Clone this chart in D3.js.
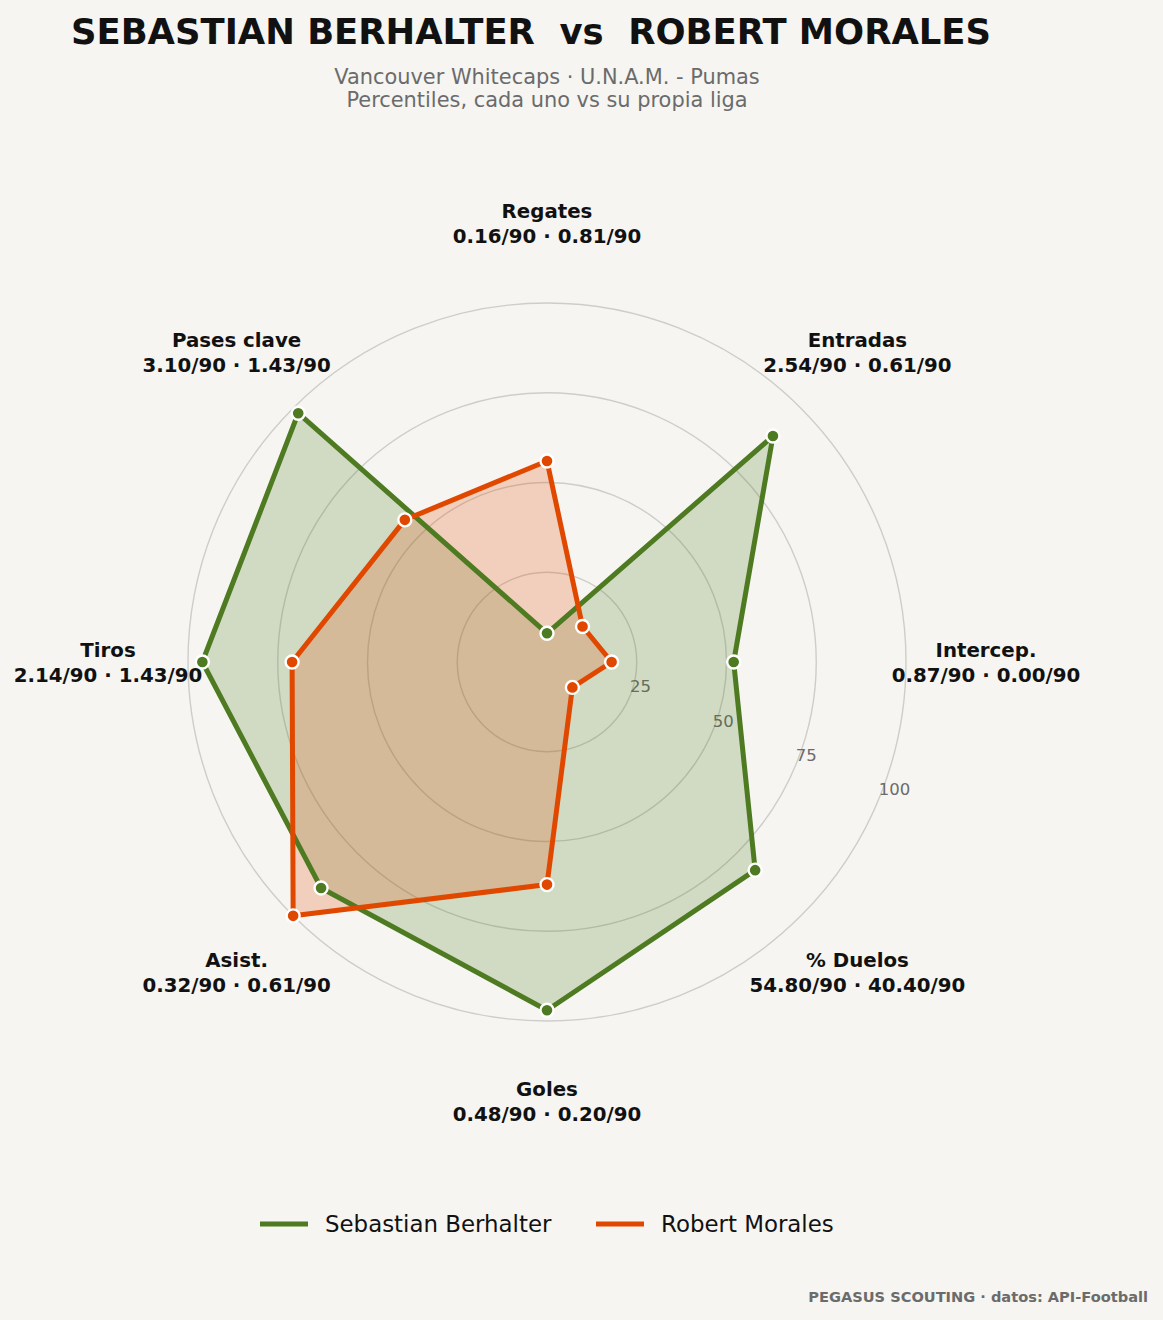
<!DOCTYPE html>
<html><head><meta charset="utf-8">
<script src="https://cdn.jsdelivr.net/npm/d3@7"></script>
<style>
html,body{margin:0;padding:0;background:#f6f5f1;}
svg{display:block;font-family:"DejaVu Sans",sans-serif;}
</style></head>
<body>
<svg id="chart" width="1163" height="1320"></svg>
<script>
const categories = ["Regates","Entradas","Intercep.","% Duelos","Goles","Asist.","Tiros","Pases clave"];
const rawA = ["0.16/90","2.54/90","0.87/90","54.80/90","0.48/90","0.32/90","2.14/90","3.10/90"];
const rawB = ["0.81/90","0.61/90","0.00/90","40.40/90","0.20/90","0.61/90","1.43/90","1.43/90"];
const berhalter = [8, 89, 52, 82, 97, 89, 96, 98];
const morales = [56, 14, 18, 10, 62, 100, 71, 56];
const ringTicks = [25, 50, 75, 100];
const seriesNames = ["Sebastian Berhalter","Robert Morales"];
const colors = ["#4e7a21","#e04800"];

const svg = d3.select("#chart");
svg.append("rect").attr("width",1163).attr("height",1320).attr("fill","#f6f5f1");
const cx = 547, cy = 662;
const r = d3.scaleLinear().domain([0,100]).range([0,359]);
const ang = d3.scaleLinear().domain([0,categories.length]).range([0,2*Math.PI]);
const g = svg.append("g").attr("transform",`translate(${cx},${cy})`);

// rings
g.selectAll("circle.ring").data(ringTicks).join("circle")
  .attr("r",d=>r(d)).attr("fill","none").attr("stroke","#cfcdc8").attr("stroke-width",1.4);

// ring labels
const la = 22.5*Math.PI/180;
g.selectAll("text.rl").data(ringTicks).join("text")
  .attr("x",d=>r(d)*Math.cos(la)).attr("y",d=>r(d)*Math.sin(la)-4)
  .attr("font-size",16.5).attr("fill","#6b6b6b").text(d=>d);

const pt = (v,i)=>{const a=ang(i); return [r(v)*Math.sin(a), -r(v)*Math.cos(a)];};
const line = d3.line().curve(d3.curveLinearClosed);

[berhalter, morales].forEach((vals,k)=>{
  const pts = vals.map((v,i)=>pt(v,i));
  g.append("path").attr("d",line(pts)).attr("fill",colors[k]).attr("fill-opacity",0.22).attr("stroke","none");
});
[berhalter, morales].forEach((vals,k)=>{
  const pts = vals.map((v,i)=>pt(v,i));
  g.append("path").attr("d",line(pts)).attr("fill","none").attr("stroke",colors[k]).attr("stroke-width",5).attr("stroke-linejoin","round");
  g.selectAll(null).data(pts).join("circle")
    .attr("cx",d=>d[0]).attr("cy",d=>d[1]).attr("r",6.5)
    .attr("fill",colors[k]).attr("stroke","#ffffff").attr("stroke-width",2.4);
});

// category labels
const lr = 439;
categories.forEach((c,i)=>{
  const a = ang(i);
  const x = lr*Math.sin(a), y = -lr*Math.cos(a);
  const t = g.append("text").attr("text-anchor","middle").attr("font-weight","bold")
    .attr("font-size",19.8).attr("fill","#111");
  t.append("tspan").attr("x",x).attr("y",y-5).text(c);
  t.append("tspan").attr("x",x).attr("y",y+20).text(rawA[i]+" · "+rawB[i]);
});

// title
svg.append("text").attr("x",531).attr("y",44).attr("text-anchor","middle")
  .attr("font-weight","bold").attr("font-size",35.4).attr("fill","#111")
  .style("white-space","pre")
  .text("SEBASTIAN BERHALTER  vs  ROBERT MORALES");
svg.append("text").attr("x",547).attr("y",84).attr("text-anchor","middle")
  .attr("font-size",20.9).attr("fill","#6b6b6b").text("Vancouver Whitecaps · U.N.A.M. - Pumas");
svg.append("text").attr("x",547).attr("y",107).attr("text-anchor","middle")
  .attr("font-size",20.9).attr("fill","#6b6b6b").text("Percentiles, cada uno vs su propia liga");

// legend
const legX = [260, 596];
seriesNames.forEach((n,k)=>{
  svg.append("line").attr("x1",legX[k]).attr("x2",legX[k]+48).attr("y1",1224).attr("y2",1224)
    .attr("stroke",colors[k]).attr("stroke-width",5);
  svg.append("text").attr("x",legX[k]+65).attr("y",1232).attr("font-size",22.9).attr("fill","#111").text(n);
});

// footer
svg.append("text").attr("x",1148).attr("y",1302).attr("text-anchor","end")
  .attr("font-weight","bold").attr("font-size",14.6).attr("fill","#6b6b6b")
  .text("PEGASUS SCOUTING · datos: API-Football");
</script>
</body></html>
